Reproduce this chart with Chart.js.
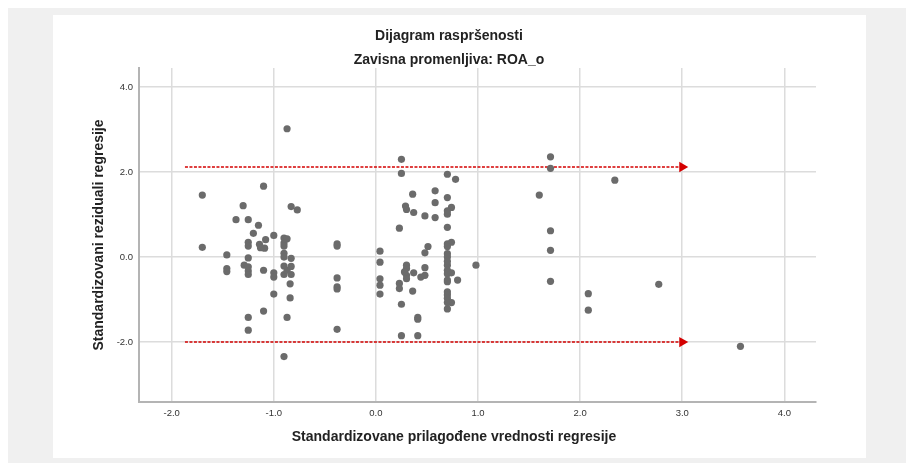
<!DOCTYPE html>
<html>
<head>
<meta charset="utf-8">
<title>Dijagram raspršenosti</title>
<script src="https://cdn.jsdelivr.net/npm/chart.js@4.4.1/dist/chart.umd.min.js"></script>
<style>
  body { margin: 0; background: #fff; }
  #frame { position: absolute; left: 8px; top: 8px; width: 898px; height: 455px; background: #f0f0f0; }
  #panel { position: absolute; left: 53px; top: 15px; width: 813px; height: 443px; background: #fff; }
  #wrap { position: absolute; left: 0; top: 0; width: 906px; height: 463px; }
</style>
</head>
<body>
<div id="frame"></div>
<div id="panel"></div>
<div id="wrap"><canvas id="chart"></canvas></div>
<script>
// standardizovane prilagođene vrednosti (x) i standardizovani reziduali (y)
const fittedX = [
  -0.87, 0.25, 1.71, 1.71, 0.25, 0.70, 0.78, 2.34, -1.10, -1.70,
  1.60, 0.36, 0.58, 0.58, 0.70, 0.29, 0.30, -1.30, -0.83, -0.77,
  0.37, 0.48, 0.58, 0.74, 0.70, 0.70, -1.37, -1.25, -1.15, -1.20,
  -1.00, 0.70, 0.23, 1.71, -1.70, -1.25, -1.25, -1.14, -1.13, -1.09,
  -1.08, -0.90, -0.87, -0.90, -0.90, -0.38, -0.38, 0.51, 0.70, 0.74,
  0.70, 1.71, 0.04, 0.48, -1.46, -1.25, -0.90, -0.90, -0.83, 0.70,
  0.70, 0.04, 0.98, -1.29, -1.25, -1.46, -1.46, -1.25, -1.25, -1.10,
  -1.00, -1.00, -0.90, -0.90, -0.87, -0.83, -0.83, 0.30, 0.30, 0.30,
  0.30, 0.37, 0.44, 0.48, 0.48, 0.70, 0.70, 0.70, 0.74, 0.70,
  0.70, 0.80, -0.38, -0.38, -0.38, 0.04, 0.04, 0.04, 0.23, 0.23,
  0.36, 1.71, 2.77, -0.84, -1.00, -0.84, 0.70, 0.70, 0.70, 0.74,
  0.70, 0.70, 0.25, 2.08, 2.08, -1.10, -1.25, -0.87, 0.41, 0.41,
  -1.25, -0.38, 0.25, 0.41, -0.90, 3.57, 0.70, 0.28
];
const residY = [
  3.02, 2.30, 2.36, 2.09, 1.97, 1.95, 1.83, 1.81, 1.67, 1.46,
  1.46, 1.48, 1.56, 1.28, 1.40, 1.20, 1.12, 1.21, 1.19, 1.11,
  1.05, 0.97, 0.93, 1.17, 1.09, 1.01, 0.88, 0.88, 0.75, 0.56,
  0.51, 0.70, 0.68, 0.62, 0.23, 0.35, 0.26, 0.30, 0.22, 0.21,
  0.41, 0.45, 0.43, 0.33, 0.26, 0.31, 0.26, 0.25, 0.31, 0.35,
  0.25, 0.16, 0.14, 0.10, 0.05, -0.02, 0.09, 0.00, -0.03, 0.08,
  0.00, -0.12, -0.19, -0.19, -0.23, -0.27, -0.34, -0.33, -0.41, -0.31,
  -0.37, -0.47, -0.21, -0.41, -0.31, -0.22, -0.41, -0.19, -0.27, -0.43,
  -0.51, -0.37, -0.47, -0.25, -0.43, -0.19, -0.31, -0.39, -0.37, -0.54,
  -0.58, -0.54, -0.49, -0.70, -0.75, -0.51, -0.66, -0.87, -0.62, -0.74,
  -0.80, -0.57, -0.64, -0.63, -0.87, -0.96, -0.82, -0.89, -0.97, -1.07,
  -1.07, -1.22, -1.11, -0.86, -1.25, -1.27, -1.42, -1.42, -1.42, -1.46,
  -1.72, -1.70, -1.85, -1.85, -2.34, -2.10, -0.10, -0.35
];

const xTicks = [-2, -1, 0, 1, 2, 3, 4];
const yTicks = [-2, 0, 2, 4];

// granice (crvene strelice)
const limitX = [-1.87, 3.0];
const upperLimit = 2.12;
const lowerLimit = -2.0;

const xTitle = 'Standardizovane prilagođene vrednosti regresije';
const yTitle = 'Standardizovani reziduali regresije';

Chart.defaults.font.family = '"Liberation Sans", Arial, sans-serif';

const red = '#d40000';

function limitLine(yValue) {
    return {
        type: 'line',
        data: limitX.map(x => ({ x: x, y: yValue })),
        borderColor: red,
        borderWidth: 1.5,
        borderDash: [3, 1.5],
        pointStyle: 'triangle',
        pointRotation: 90,
        pointRadius: ctx => ctx.dataIndex === limitX.length - 1 ? 6 : 0,
        pointBackgroundColor: red,
        pointBorderWidth: 0,
        fill: false
    };
}

// naslov x ose, centriran kao u originalu
const xTitlePlugin = {
    id: 'xTitle',
    afterDraw(chart) {
        const ctx = chart.ctx;
        ctx.save();
        ctx.font = 'bold 14px "Liberation Sans", Arial, sans-serif';
        ctx.fillStyle = '#222';
        ctx.textAlign = 'center';
        ctx.textBaseline = 'middle';
        ctx.fillText(xTitle, 454, 437);
        ctx.restore();
    }
};

const ctx = document.getElementById('chart').getContext('2d');
new Chart(ctx, {
    type: 'scatter',
    data: {
        datasets: [
            {
                data: fittedX.map((x, i) => ({ x: x, y: residY[i] })),
                backgroundColor: '#6b6b6b',
                borderWidth: 0,
                pointRadius: 3.6,
                pointHoverRadius: 3.6
            },
            limitLine(upperLimit),
            limitLine(lowerLimit)
        ]
    },
    options: {
        responsive: true,
        maintainAspectRatio: false,
        animation: false,
        layout: { padding: { left: 82, right: 90, top: 0, bottom: 0 } },
        plugins: {
            legend: { display: false },
            tooltip: { enabled: false },
            title: {
                display: true,
                text: 'Dijagram raspršenosti',
                color: '#222',
                font: { size: 14, weight: 'bold', lineHeight: 1.143 },
                padding: { top: 28, bottom: 8 }
            },
            subtitle: {
                display: true,
                text: 'Zavisna promenljiva: ROA_o',
                color: '#222',
                font: { size: 14, weight: 'bold', lineHeight: 1.143 },
                padding: { top: 0, bottom: 0 }
            }
        },
        scales: {
            x: {
                type: 'linear',
                position: 'bottom',
                min: -2.32,
                max: 4.31,
                afterBuildTicks: axis => { axis.ticks = xTicks.map(v => ({ value: v })); },
                afterFit: scale => { scale.height = 61; },
                grid: { color: '#dcdcdc', lineWidth: 1.5, drawTicks: false },
                border: { color: '#b4b4b4', width: 2 },
                ticks: {
                    padding: 6,
                    color: '#333',
                    font: { size: 9.5 },
                    maxRotation: 0,
                    autoSkip: false,
                    callback: v => v.toFixed(1)
                }
            },
            y: {
                type: 'linear',
                min: -3.41,
                max: 4.45,
                afterBuildTicks: axis => { axis.ticks = yTicks.map(v => ({ value: v })); },
                afterFit: scale => { scale.width = 57; },
                grid: { color: '#dcdcdc', lineWidth: 1.5, drawTicks: false },
                border: { color: '#b4b4b4', width: 2 },
                ticks: {
                    padding: 6,
                    color: '#333',
                    font: { size: 9.5 },
                    callback: v => v.toFixed(1)
                },
                title: {
                    display: true,
                    text: yTitle,
                    color: '#222',
                    font: { size: 14, weight: 'bold' },
                    padding: { top: 9, bottom: 0 }
                }
            }
        }
    },
    plugins: [xTitlePlugin]
});
</script>
</body>
</html>
